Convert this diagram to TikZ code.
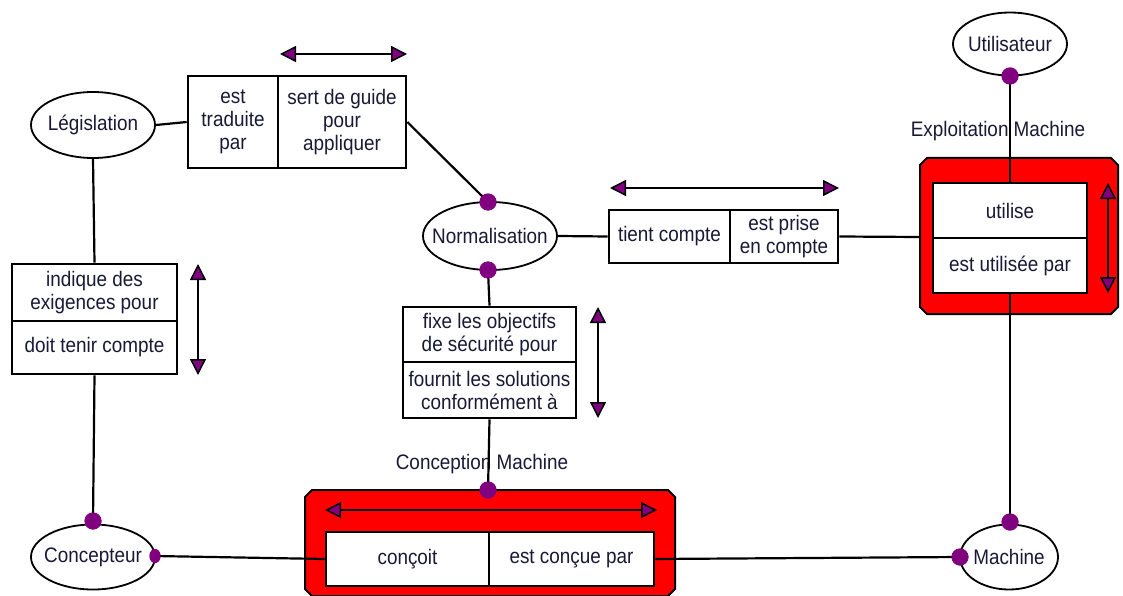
\documentclass[tikz,border=0pt]{standalone}
\usepackage{fontspec}
\setmainfont[FakeStretch=0.9]{Liberation Sans}
\usetikzlibrary{shapes.geometric,arrows.meta}
\definecolor{dotc}{RGB}{128,0,128}
\definecolor{txtc}{RGB}{25,25,55}
\definecolor{redc}{RGB}{255,0,0}
\tikzset{
  lbl/.style={font=\fontsize{21}{23}\selectfont, text=txtc, align=center},
  part/.style={lbl, draw=black, line width=2.6pt, fill=white, inner sep=0.5pt},
  ell/.style={ellipse, draw=black, line width=1.8pt, fill=white, inner sep=0pt},
  dot/.style={circle, fill=dotc, minimum size=17pt, inner sep=0pt},
  smalldot/.style={ellipse, fill=dotc, minimum width=11pt, minimum height=14pt, inner sep=0pt},
  redframe/.style={draw=black, line width=2pt, fill=redc},
  conn/.style={line width=2.2pt, draw=black},
  darr/.style={line width=2.6pt, {Triangle[length=16pt,width=16pt,fill=dotc,line width=1.5pt]}-{Triangle[length=16pt,width=16pt,fill=dotc,line width=1.5pt]}}
}
\begin{document}
\begin{tikzpicture}[x=1pt,y=-1pt]
\useasboundingbox (0,0) rectangle (1123,596);

% red containers (chamfered frames)
\draw[redframe] (927,158) -- (1111,158) -- (1118,165) -- (1118,307) -- (1111,314)
  -- (927,314) -- (920,307) -- (920,165) -- cycle;
\coordinate (explw) at (920,237);
\draw[redframe] (312,490) -- (668,490) -- (675,497) -- (675,589) -- (668,596)
  -- (312,596) -- (305,589) -- (305,497) -- cycle;

% ellipses
\node[ell, minimum width=124pt, minimum height=66pt, label={[lbl]center:Législation}] (leg) at (93,125) {};
\node[ell, minimum width=134pt, minimum height=68pt, label={[lbl]center:Normalisation}] (norm) at (490,236) {};
\node[ell, minimum width=114pt, minimum height=63pt, label={[lbl]center:Utilisateur}] (util) at (1010,44) {};
\node[ell, minimum width=124pt, minimum height=65pt, label={[lbl]center:Concepteur}] (conc) at (93,557) {};
\node[ell, minimum width=98pt, minimum height=65pt, label={[lbl]center:Machine}] (mach) at (1009,557) {};

% relation boxes
\node[part, minimum width=90pt, minimum height=92pt] (tb1) at (233,122) {est\\traduite\\par};
\node[part, minimum width=128pt, minimum height=92pt] (tb2) at (342,122) {sert de guide\\pour\\appliquer};

\node[part, minimum width=121pt, minimum height=53pt, inner sep=0pt] (tc1) at (669.5,236.5) {tient compte};
\node[part, minimum width=108pt, minimum height=53pt] (tc2) at (784,236.5) {est prise\\en compte};

\node[part, minimum width=154pt, minimum height=55pt] (ex1) at (1010,210.5) {utilise};
\node[part, minimum width=154pt, minimum height=55pt] (ex2) at (1010,265.5) {est utilisée par};

\node[part, minimum width=165pt, minimum height=57pt] (lb1) at (94.5,292.5) {indique des\\exigences pour};
\node[part, minimum width=165pt, minimum height=53pt] (lb2) at (94.5,347.5) {doit tenir compte};

\node[part, minimum width=173pt, minimum height=55pt] (mb1) at (489.5,334.5) {fixe les objectifs\\de sécurité pour};
\node[part, minimum width=173pt, minimum height=56pt] (mb2) at (489.5,390) {fournit les solutions\\conformément à};

\node[part, minimum width=163pt, minimum height=54pt] (cb1) at (407.5,559) {conçoit};
\node[part, minimum width=165pt, minimum height=54pt] (cb2) at (571.5,559) {est conçue par};

% group labels
\node[lbl] (explab) at (998,131) {Exploitation Machine};
\node[lbl] (conlab) at (482,464) {Conception Machine};

% dots
\node[dot] (dnormn) at (488,202) {};
\node[dot] (dnorms) at (488,270) {};
\node[dot] (dutil) at (1010,76) {};
\node[dot] (dconcn) at (93,521) {};
\node[smalldot] (dconce) at (155,556) {};
\node[dot] (dmachn) at (1010,522) {};
\node[dot] (dmachw) at (960,557) {};
\node[dot] (dconb) at (488,490) {};

% connectors
\draw[conn] (leg.east) -- (tb1.west);
\draw[conn] (tb2.east) -- (dnormn.center);
\draw[conn] (leg.south) -- (lb1.north);
\draw[conn] (lb2.south) -- (dconcn.center);
\draw[conn] (norm.east) -- (tc1.west);
\draw[conn] (tc2.east) -- (explw);
\draw[conn] (dutil.center) -- (ex1.north);
\draw[conn] (ex2.south) -- (dmachn.center);
\draw[conn] (dnorms.center) -- (mb1.north);
\draw[conn] (mb2.south) -- (dconb.center);
\draw[conn] (dconce.center) -- (cb1.west);
\draw[conn] (cb2.east) -- (dmachw.center);

% redraw dots on top
\foreach \d in {dnormn,dnorms,dutil,dconcn,dmachn,dmachw,dconb}{\fill[dotc] (\d) circle (8.5pt);}
\fill[dotc] (dconce) ellipse (5.5pt and 7pt);

% double arrows
\coordinate (a1l) at (280,54); \coordinate (a1r) at (407,54);
\draw[darr] (a1l) -- (a1r);
\coordinate (a2l) at (610,188); \coordinate (a2r) at (839,188);
\draw[darr] (a2l) -- (a2r);
\coordinate (a3t) at (1108,183); \coordinate (a3b) at (1108,293);
\draw[darr] (a3t) -- (a3b);
\coordinate (a4t) at (198,264); \coordinate (a4b) at (198,375);
\draw[darr] (a4t) -- (a4b);
\coordinate (a5t) at (598,307); \coordinate (a5b) at (598,418);
\draw[darr] (a5t) -- (a5b);
\coordinate (a6l) at (325,510); \coordinate (a6r) at (657,510);
\draw[darr] (a6l) -- (a6r);
\end{tikzpicture}
\end{document}
